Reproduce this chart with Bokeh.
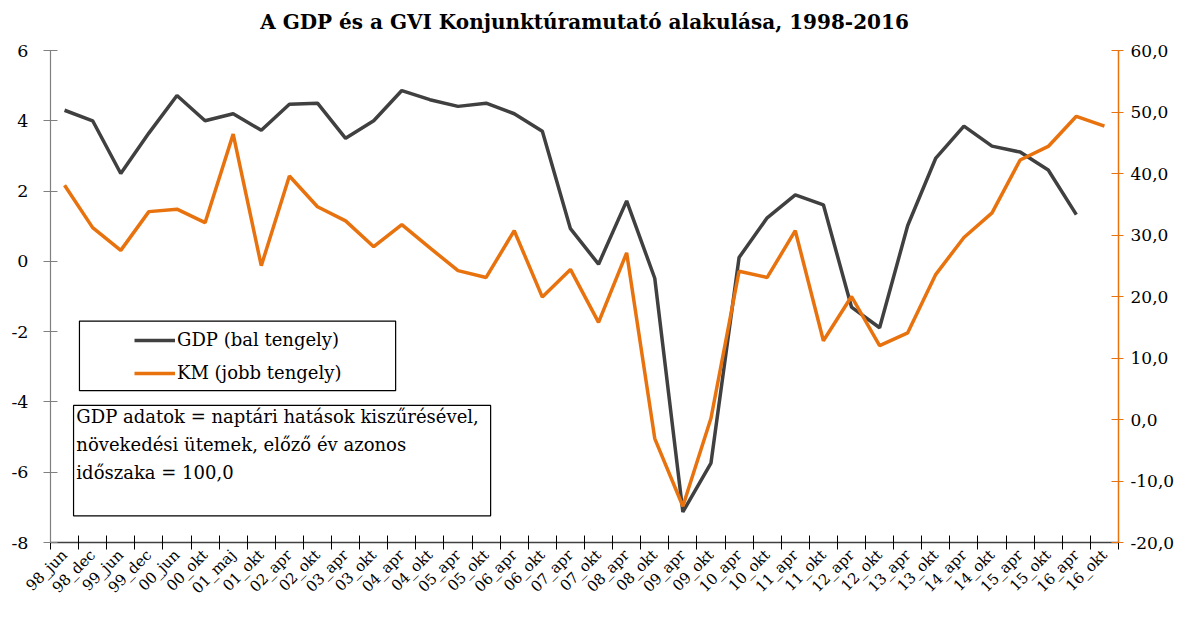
from bokeh.plotting import figure
from bokeh.models import (Range1d, LinearAxis, FixedTicker, CustomJSTickFormatter,
                          Legend, LegendItem, BoxAnnotation, Label, Title)
from bokeh.embed import file_html
from bokeh.resources import INLINE

categories = ["98_jun", "98_dec", "99_jun", "99_dec", "00_jun", "00_okt", "01_maj", "01_okt",
              "02_apr", "02_okt", "03_apr", "03_okt", "04_apr", "04_okt", "05_apr", "05_okt",
              "06_apr", "06_okt", "07_apr", "07_okt", "08_apr", "08_okt", "09_apr", "09_okt",
              "10_apr", "10_okt", "11_apr", "11_okt", "12_apr", "12_okt", "13_apr", "13_okt",
              "14_apr", "14_okt", "15_apr", "15_okt", "16_apr", "16_okt"]

gdp = [4.3, 4.0, 2.5, 3.65, 4.72, 4.0, 4.2, 3.73, 4.47, 4.5, 3.5, 4.0, 4.86, 4.6, 4.41, 4.5,
       4.2, 3.7, 0.93, -0.08, 1.72, -0.48, -7.13, -5.74, 0.11, 1.24, 1.89, 1.61, -1.30, -1.89,
       1.02, 2.94, 3.85, 3.28, 3.11, 2.6, 1.33]

km = [38.1, 31.2, 27.5, 33.8, 34.2, 32.0, 46.4, 25.0, 39.6, 34.6, 32.3, 28.1, 31.7, 27.9,
      24.2, 23.1, 30.7, 19.9, 24.4, 15.8, 27.1, -3.1, -14.1, 0.2, 24.1, 23.1, 30.7, 12.8,
      20.0, 12.0, 14.1, 23.6, 29.6, 33.6, 42.2, 44.4, 49.3, 47.7]

left_ticks = [-8, -6, -4, -2, 0, 2, 4, 6]
right_ticks = [-20, -10, 0, 10, 20, 30, 40, 50, 60]

TITLE = "A GDP és a GVI Konjunktúramutató alakulása, 1998-2016"
FONT = "DejaVu Serif"
GDP_COLOR = "#404040"
KM_COLOR = "#E8720E"

n = len(categories)
x_gdp = [i + 0.5 for i in range(len(gdp))]
x_km = [i + 0.5 for i in range(len(km))]

p = figure(width=1177, height=606, output_backend="svg", toolbar_location=None, title=None,
           x_range=Range1d(0, n), y_range=Range1d(-8, 6),
           min_border_left=50, min_border_right=59, min_border_top=50, min_border_bottom=61)
p.extra_y_ranges = {"km": Range1d(-20, 60)}

p.outline_line_color = None
p.xgrid.visible = False
p.ygrid.visible = False
p.background_fill_color = "white"
p.border_fill_color = "white"

# spacer between frame and title, then the title itself
p.add_layout(Title(text=" ", text_font_size="9px", standoff=0), "above")
p.add_layout(Title(text=TITLE, align="center", offset=10, text_font=FONT,
                   text_font_size="20px", text_font_style="bold", text_color="#000000"),
             "above")

# x axis
xa = p.xaxis[0]
xa.ticker = FixedTicker(ticks=[i + 0.5 for i in range(n)], minor_ticks=list(range(n + 1)))
xa.formatter = CustomJSTickFormatter(args=dict(labels=categories),
                                     code="return labels[Math.floor(tick)];")
xa.major_label_orientation = 0.785398
xa.major_tick_line_color = None
xa.major_tick_in = 0
xa.major_tick_out = 0
xa.minor_tick_line_color = "#000000"
xa.minor_tick_in = 7
xa.minor_tick_out = 7
xa.axis_line_color = "#404040"
xa.axis_line_width = 1.5
xa.major_label_text_font = FONT
xa.major_label_text_font_size = "15px"
xa.major_label_text_color = "#000000"
xa.major_label_standoff = 3

# left axis
ya = p.yaxis[0]
ya.ticker = FixedTicker(ticks=left_ticks)
ya.formatter = CustomJSTickFormatter(code="return String(tick);")
ya.minor_tick_line_color = None
ya.major_tick_in = 7
ya.major_tick_out = 7
ya.axis_line_color = "#808080"
ya.axis_line_width = 1.2
ya.major_tick_line_color = "#808080"
ya.major_label_text_font = FONT
ya.major_label_text_font_size = "17.5px"
ya.major_label_text_color = "#000000"
ya.major_label_standoff = 15

# right axis
ra = LinearAxis(y_range_name="km", ticker=FixedTicker(ticks=right_ticks),
                formatter=CustomJSTickFormatter(code="return tick.toFixed(1).replace('.', ',');"))
ra.minor_tick_line_color = None
ra.major_tick_in = 7
ra.major_tick_out = 5
ra.axis_line_color = KM_COLOR
ra.axis_line_width = 1.5
ra.major_tick_line_color = KM_COLOR
ra.major_label_text_font = FONT
ra.major_label_text_font_size = "17px"
ra.major_label_text_color = "#000000"
ra.major_label_standoff = 7
p.add_layout(ra, "right")

r_gdp = p.line(x_gdp, gdp, line_color=GDP_COLOR, line_width=3.5)
r_km = p.line(x_km, km, line_color=KM_COLOR, line_width=3.5, y_range_name="km")

# legend frame
p.add_layout(BoxAnnotation(left=1.03, right=12.28, top=-1.70, bottom=-3.68,
                           fill_color="white", fill_alpha=1.0,
                           line_color="#000000", line_alpha=1.0, line_width=1.2,
                           level="overlay"))

legend = Legend(items=[LegendItem(label="GDP (bal tengely)", renderers=[r_gdp]),
                       LegendItem(label="KM (jobb tengely)", renderers=[r_km])],
                location=(84, 159), padding=0, margin=0, spacing=12,
                glyph_width=41, glyph_height=20, label_height=20, label_standoff=2,
                border_line_color=None, background_fill_alpha=0,
                label_text_font=FONT, label_text_font_size="18px",
                label_text_color="#000000")
p.add_layout(legend, "center")

# note box
p.add_layout(BoxAnnotation(left=0.82, right=15.66, top=-4.10, bottom=-7.24,
                           fill_color="white", fill_alpha=1.0,
                           line_color="#000000", line_alpha=1.0, line_width=1.2,
                           level="overlay"))
p.add_layout(Label(x=0.92, y=-4.13,
                   text="GDP adatok = naptári hatások kiszűrésével,\nnövekedési ütemek, előző év azonos\nidőszaka = 100,0",
                   text_font=FONT, text_font_size="18px", text_color="#000000",
                   text_baseline="top", text_align="left", text_line_height=1.33,
                   level="overlay"))

open("out.html", "w").write(file_html(p, INLINE))
